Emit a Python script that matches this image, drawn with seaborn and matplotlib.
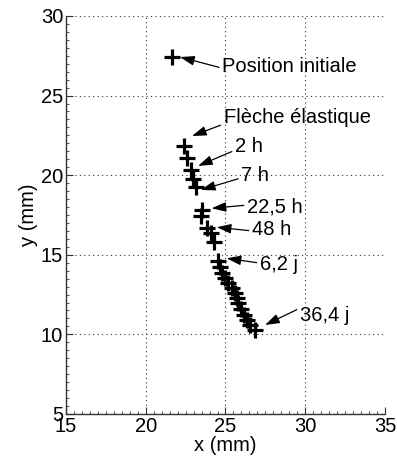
import matplotlib
matplotlib.use("Agg")
import matplotlib.pyplot as plt
import seaborn as sns
import pandas as pd
from matplotlib.ticker import MultipleLocator

# Data (mm)
x_pos = [21.65, 22.4, 22.6, 22.84, 22.96, 23.15, 23.5, 23.45, 23.86, 24.07, 24.28,
         24.55, 24.66, 24.8, 24.97, 25.18, 25.39, 25.6, 25.7, 25.8, 26.0, 26.18,
         26.33, 26.54, 26.85]
y_pos = [27.42, 21.83, 21.08, 20.3, 19.76, 19.26, 17.8, 17.45, 16.67, 16.35, 15.82,
         14.63, 14.25, 13.88, 13.52, 13.21, 12.9, 12.58, 12.27, 11.95, 11.58, 11.22,
         10.9, 10.6, 10.28]

labels = ["Position initiale", "Flèche élastique", "2 h", "7 h", "22,5 h", "48 h", "6,2 j", "36,4 j"]
head_x = [22.15, 22.9, 23.28, 23.46, 24.13, 24.45, 25.07, 27.48]
head_y = [27.42, 22.46, 20.58, 19.07, 17.92, 16.73, 14.78, 10.59]
text_x = [24.8, 24.9, 25.6, 26.0, 26.35, 26.66, 27.16, 29.67]
text_y = [26.8, 23.6, 21.8, 19.95, 18.0, 16.56, 14.42, 11.16]
tail_rel = [0.45, 0.15, 0.3, 0.4, 0.6, 0.45, 0.55, 0.9]

x_ticks = [15, 20, 25, 30, 35]
y_ticks = [5, 10, 15, 20, 25, 30]

sns.set_style("ticks")
plt.rcParams['font.family'] = ['Liberation Sans', 'DejaVu Sans']
plt.rcParams['text.color'] = 'black'
plt.rcParams['axes.labelcolor'] = 'black'
plt.rcParams['xtick.color'] = 'black'
plt.rcParams['ytick.color'] = 'black'

fig = plt.figure(figsize=(3.97, 4.65), dpi=100)
ax = fig.add_axes([0.166, 0.1097, 0.804, 0.856])

df = pd.DataFrame({"x": x_pos, "y": y_pos})
sns.scatterplot(data=df, x="x", y="y", marker="+", s=130, color="black",
                linewidth=2.3, ax=ax, zorder=3)

for lab, hx, hy, tx, ty, rp in zip(labels, head_x, head_y, text_x, text_y, tail_rel):
    ax.annotate(lab, xy=(hx, hy), xytext=(tx, ty), fontsize=14.5,
                ha="left", va="center", color="black",
                arrowprops=dict(arrowstyle="-|>,head_length=0.6,head_width=0.2",
                                color="black", lw=0.9, shrinkA=0, shrinkB=0,
                                relpos=(-0.01, rp)))

ax.set_xlim(15, 35)
ax.set_ylim(5, 30)
ax.set_xticks(x_ticks)
ax.set_yticks(y_ticks)
ax.xaxis.set_minor_locator(MultipleLocator(0.5))
ax.yaxis.set_minor_locator(MultipleLocator(0.5))
ax.tick_params(which="both", direction="in", labelsize=14.5, color="#333333")
ax.tick_params(which="major", length=5, width=0.8, pad=2)
ax.tick_params(which="minor", length=2.5, width=0.6)
ax.grid(True, which="major", linestyle=(0, (1, 3)), color="#333333", linewidth=0.8)
ax.set_axisbelow(True)
for s in ["top", "right"]:
    ax.spines[s].set_visible(False)
for s in ["left", "bottom"]:
    ax.spines[s].set_color("#333333")
    ax.spines[s].set_linewidth(1.0)
ax.set_xlabel("x (mm)", fontsize=14.5, labelpad=0)
ax.set_ylabel("y (mm)", fontsize=14.5, labelpad=2)

fig.savefig("out.png", dpi=100)
